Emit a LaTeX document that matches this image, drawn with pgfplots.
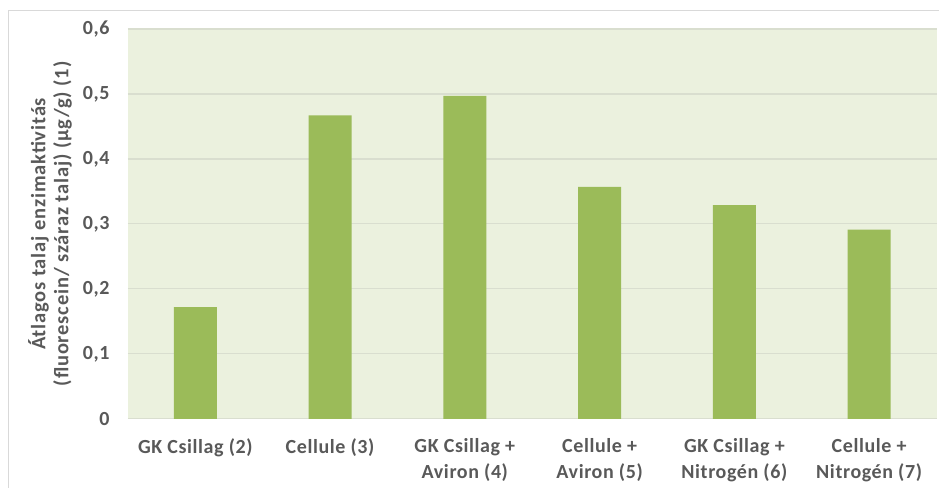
\documentclass[border=0pt]{standalone}
\usepackage{pgfplots}
\pgfplotsset{compat=1.18}
\usepackage{fontspec}
\setmainfont{Carlito}
\newfontfamily\tickfont{Carlito}[LetterSpace=3]
\newfontfamily\labfont{Carlito}[LetterSpace=4]
\definecolor{bgc}{HTML}{EBF1DE}
\definecolor{barc}{HTML}{9BBB59}
\definecolor{txt}{HTML}{595959}
\definecolor{grd}{HTML}{D9DECF}
\definecolor{brd}{HTML}{D9D9D9}
\begin{document}
\begin{tikzpicture}
\path (0bp,0bp) rectangle (939bp,488bp);
\draw[brd,line width=1bp] (8.5bp,0bp) -- (8.5bp,477bp) -- (939bp,477bp);
\begin{axis}[
  at={(128bp,69bp)}, anchor=south west,
  scale only axis, width=809bp, height=390bp,
  xmin=-0.5, xmax=5.5, ymin=0, ymax=0.6,
  axis background/.style={fill=bgc},
  axis line style={draw=none},
  ytick={0,0.1,0.2,0.3,0.4,0.5,0.6},
  yticklabels={0,{0,1},{0,2},{0,3},{0,4},{0,5},{0,6}},
  ymajorgrids, grid style={grd, line width=1.2bp},
  major tick length=0pt,
  xtick={0,1,2,3,4,5},
  xticklabels={GK Csillag (2),Cellule (3),GK Csillag +\\Aviron (4),Cellule +\\Aviron (5),GK Csillag +\\Nitrogén (6),Cellule +\\Nitrogén (7)},
  tick label style={font=\tickfont\fontsize{20bp}{26bp}\selectfont\bfseries, text=txt},
  /pgf/number format/assume math mode=true,
  xticklabel style={align=center, yshift=-16bp},
  yticklabel style={xshift=-15bp},
  ylabel={Átlagos talaj enzimaktivitás\\(fluorescein/ száraz talaj) (µg/g) (1)},
  ylabel style={font=\labfont\fontsize{20.5bp}{23bp}\selectfont\bfseries, text=txt, align=center, at={(axis description cs:-0.0964,0.5)}, anchor=center},
  clip=false,
]
\addplot[ybar, bar width=43bp, fill=barc, draw=none] coordinates {
  (0,0.172) (1,0.467) (2,0.497) (3,0.357) (4,0.329) (5,0.291)
};
\end{axis}
\end{tikzpicture}
\end{document}
